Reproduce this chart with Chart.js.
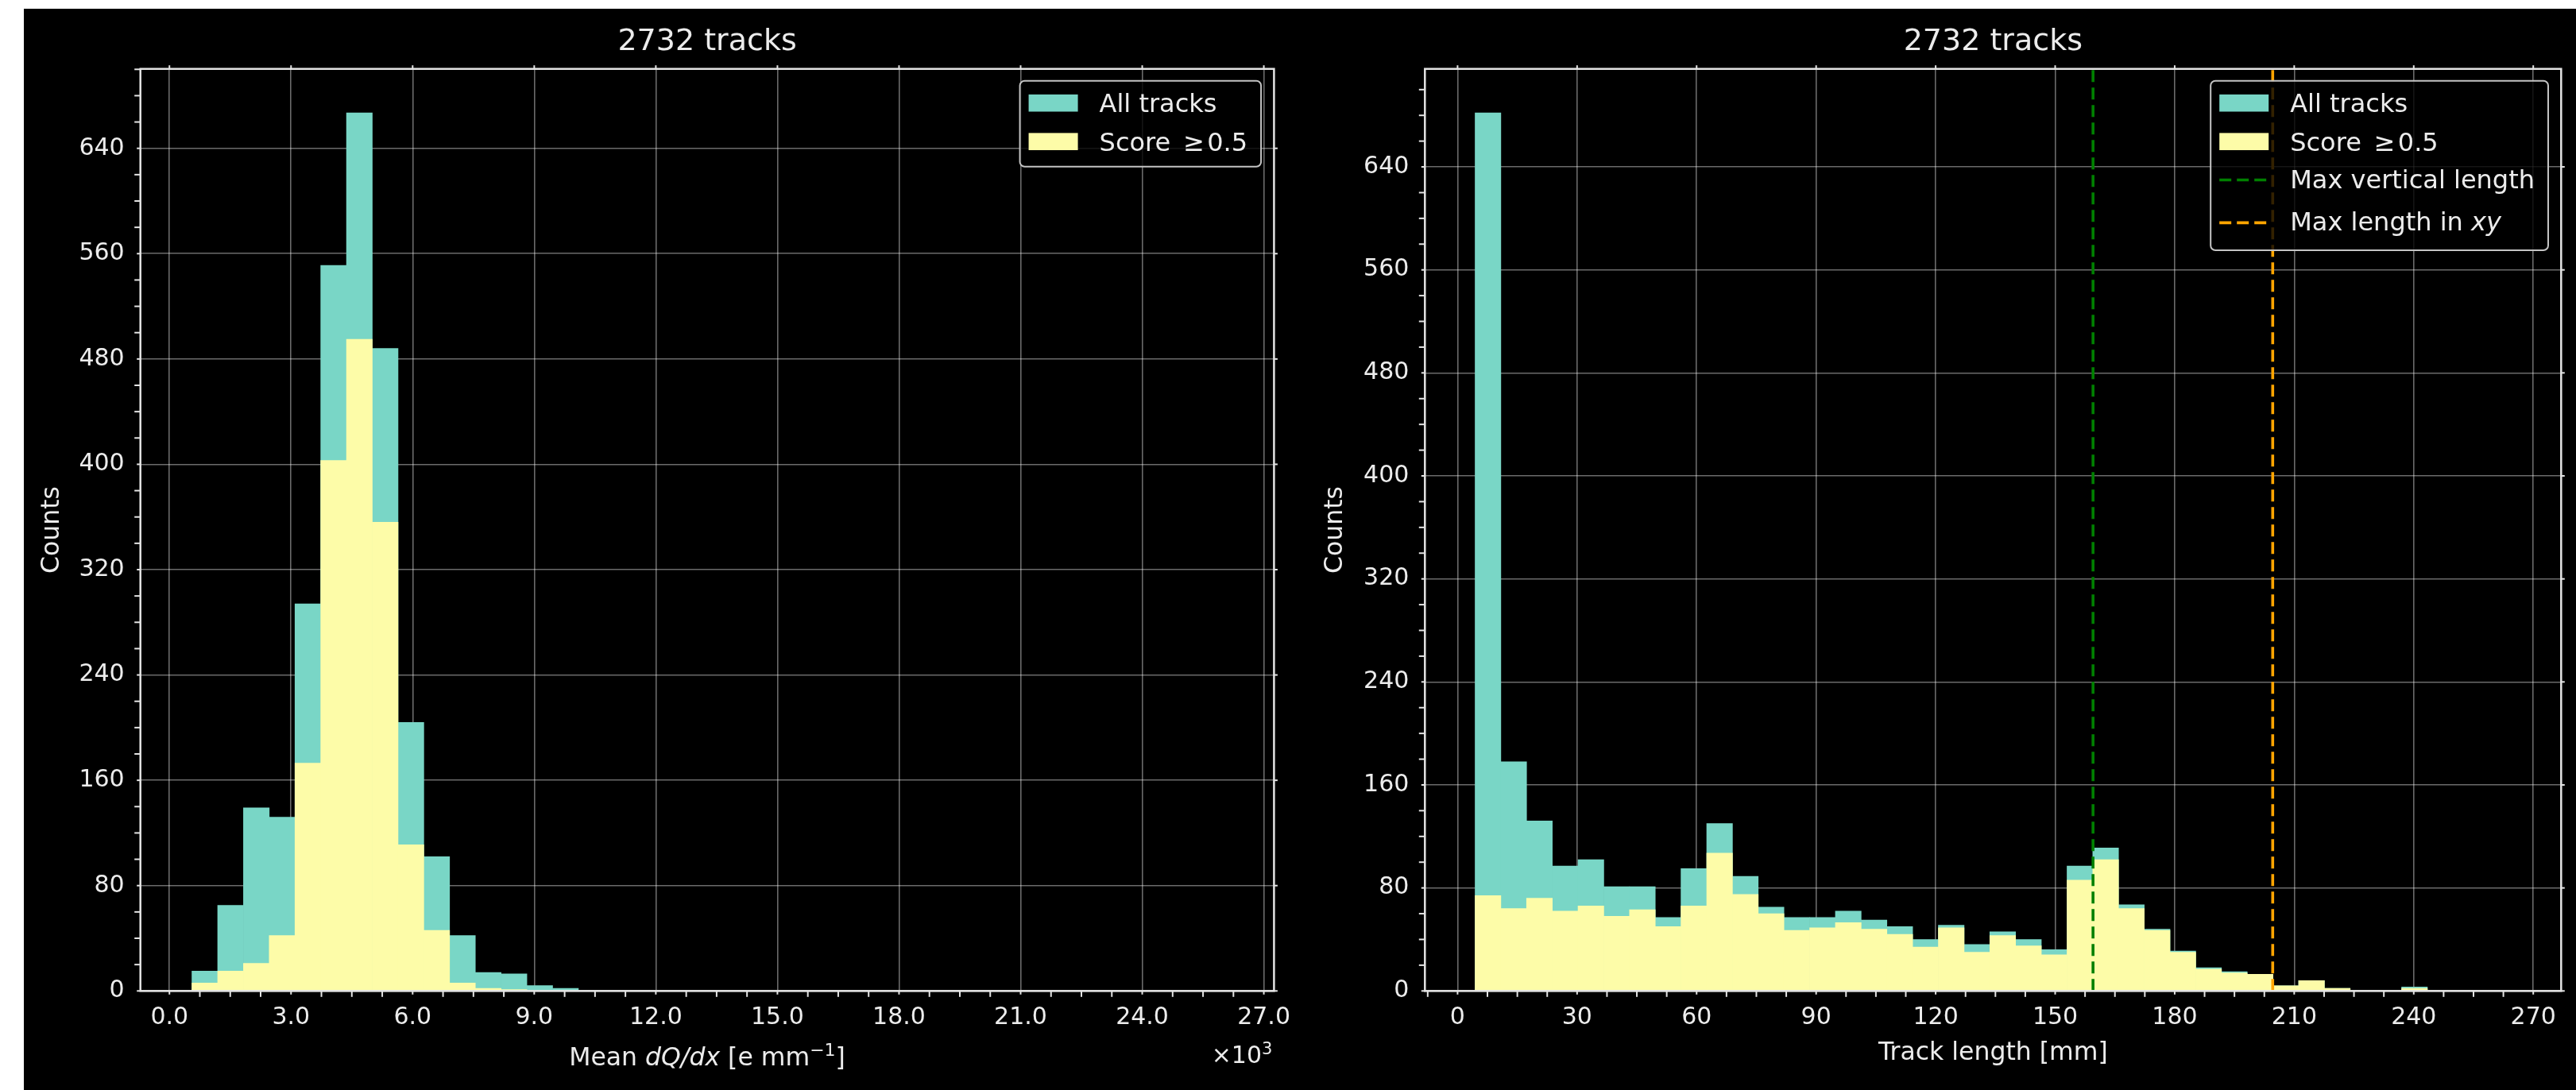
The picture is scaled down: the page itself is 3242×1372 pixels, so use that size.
<!DOCTYPE html>
<html>
<head>
<meta charset="utf-8">
<title>Track histograms</title>
<script src="https://cdn.jsdelivr.net/npm/chart.js@4.4.1/dist/chart.umd.min.js"></script>
<style>
  html, body { margin: 0; padding: 0; background: #ffffff; width: 3242px; height: 1372px; overflow: hidden; }
  #panel { position: absolute; left: 30px; top: 11px; width: 3212px; height: 1361px; background: #000000; }
  #dqdx { position: absolute; left: 0; top: 0; width: 1610px; height: 1361px; }
  #length { position: absolute; left: 1610px; top: 0; width: 1602px; height: 1361px; }
</style>
</head>
<body>
<div id="panel">
  <canvas id="dqdx" width="1610" height="1361"></canvas>
  <canvas id="length" width="1602" height="1361"></canvas>
</div>
<script>
// ---------------------------------------------------------------------------
// Data
// ---------------------------------------------------------------------------
const TITLE = '2732 tracks';
const SCORE_LABEL = 'Score\u2002\u2265\u200A0.5';

// Mean dQ/dx per track, in units of 10^3 e/mm: 40 equal-width bins
const dqdxBinRange = [0.555, 25.98];
const dqdxAllTracks = [15, 65, 139, 132, 294, 551, 667, 488, 204, 102,
                       42, 14, 13, 4, 2, 0, 0, 0, 0, 0,
                       0, 0, 0, 0, 0, 0, 0, 0, 0, 0,
                       0, 0, 0, 0, 0, 0, 0, 0, 0, 0];
const dqdxScorePass = [6, 15, 21, 42, 173, 403, 495, 356, 111, 46,
                       6, 2, 1, 0, 0, 0, 0, 0, 0, 0,
                       0, 0, 0, 0, 0, 0, 0, 0, 0, 0,
                       0, 0, 0, 0, 0, 0, 0, 0, 0, 0];
const dqdxTicks = [0, 3, 6, 9, 12, 15, 18, 21, 24, 27];

// Track length in mm: 40 equal-width bins
const lengthBinRange = [4.4, 262.8];
const lengthAllTracks = [682, 178, 132, 97, 102, 81, 81, 57, 95, 130,
                         89, 65, 57, 57, 62, 55, 50, 40, 51, 36,
                         46, 40, 32, 97, 111, 67, 48, 31, 18, 15,
                         13, 4, 8, 2, 0, 0, 3, 0, 0, 0];
const lengthScorePass = [74, 64, 72, 62, 66, 58, 63, 50, 66, 107,
                         75, 60, 47, 49, 53, 48, 44, 34, 49, 30,
                         43, 35, 28, 86, 102, 64, 47, 30, 17, 14,
                         13, 4, 8, 2, 0, 0, 2, 0, 0, 0];
const lengthTicks = [0, 30, 60, 90, 120, 150, 180, 210, 240, 270];
const lengthLimits = [-8.2, 277];
const maxVerticalLength = 159.5;
const maxLengthXY = 204.6;

const countTicks = [0, 80, 160, 240, 320, 400, 480, 560, 640];

// ---------------------------------------------------------------------------
// Style
// ---------------------------------------------------------------------------
const FONT = 'DejaVu Sans';
const TEXT = '#ececec';
const TEAL = '#79d6c6';
const YELLOW = '#fdfca8';
const GREEN = '#008000';
const ORANGE = '#ffa500';
const GRID = 'rgba(255,255,255,0.42)';
const SPINE = '#e4e4e4';
const DASH = [15, 7];
const REF_LINE_WIDTH = 3.6;
const MAJOR_LEN = 4.5;
const MINOR_LEN = 7.5;

Chart.defaults.font.family = FONT;
Chart.defaults.color = TEXT;

// ---------------------------------------------------------------------------
// Helpers
// ---------------------------------------------------------------------------
function binCenters(range, n) {
  const w = (range[1] - range[0]) / n;
  return Array.from({ length: n }, (_, i) => range[0] + (i + 0.5) * w);
}
function toPoints(centers, counts) {
  return counts.map((c, i) => ({ x: centers[i], y: c }));
}
function paddedRange(range, frac) {
  const span = range[1] - range[0];
  return [range[0] - frac * span, range[1] + frac * span];
}
function minorValues(min, max, step, majors) {
  const out = [];
  for (let k = Math.ceil(min / step - 1e-9); k * step <= max + 1e-9; k++) {
    const v = k * step;
    if (!majors.some(m => Math.abs(m - v) < 1e-6 * step)) out.push(v);
  }
  return out;
}
function segFont(s, base) {
  const size = s.size || base;
  return (s.italic ? 'italic ' : '') + size + 'px "' + FONT + '"';
}
function richWidth(ctx, segs, base) {
  let w = 0;
  segs.forEach(s => { ctx.font = segFont(s, base); w += ctx.measureText(s.t).width; });
  return w;
}
// Draws a run of text pieces (regular / italic / raised) on one baseline
function drawRich(ctx, segs, x, y, base, align) {
  const total = richWidth(ctx, segs, base);
  let cx = align === 'center' ? x - total / 2 : align === 'right' ? x - total : x;
  ctx.textAlign = 'left';
  ctx.textBaseline = 'alphabetic';
  segs.forEach(s => {
    ctx.font = segFont(s, base);
    ctx.fillText(s.t, cx, y - (s.rise || 0));
    cx += ctx.measureText(s.t).width;
  });
}
function roundedRect(ctx, x, y, w, h, r) {
  ctx.beginPath();
  ctx.moveTo(x + r, y);
  ctx.lineTo(x + w - r, y);
  ctx.arcTo(x + w, y, x + w, y + r, r);
  ctx.lineTo(x + w, y + h - r);
  ctx.arcTo(x + w, y + h, x + w - r, y + h, r);
  ctx.lineTo(x + r, y + h);
  ctx.arcTo(x, y + h, x, y + h - r, r);
  ctx.lineTo(x, y + r);
  ctx.arcTo(x, y, x + r, y, r);
  ctx.closePath();
}

// Axes frame: reference lines, spines, tick marks, legend, axis labels
const framePlugin = {
  id: 'frame',
  afterDatasetsDraw(chart, args, o) {
    const { ctx, chartArea: a, scales: { x, y } } = chart;
    ctx.save();

    // vertical reference lines
    (o.vlines || []).forEach(v => {
      const px = x.getPixelForValue(v.value);
      ctx.strokeStyle = v.color;
      ctx.lineWidth = REF_LINE_WIDTH;
      ctx.setLineDash(DASH);
      ctx.beginPath();
      ctx.moveTo(px, a.bottom);
      ctx.lineTo(px, a.top);
      ctx.stroke();
    });
    ctx.setLineDash([]);

    // spines
    ctx.strokeStyle = SPINE;
    ctx.lineWidth = 2.5;
    ctx.strokeRect(a.left, a.top, a.right - a.left, a.bottom - a.top);

    // tick marks
    ctx.lineWidth = 2;
    const mark = (x0, y0, x1, y1) => { ctx.beginPath(); ctx.moveTo(x0, y0); ctx.lineTo(x1, y1); ctx.stroke(); };
    const xMaj = x.ticks.map(t => t.value);
    const yMaj = y.ticks.map(t => t.value);
    xMaj.forEach(v => {
      const p = x.getPixelForValue(v);
      mark(p, a.bottom, p, a.bottom + MAJOR_LEN);
      mark(p, a.top, p, a.top - MAJOR_LEN);
    });
    yMaj.forEach(v => {
      const p = y.getPixelForValue(v);
      mark(a.left - MAJOR_LEN, p, a.left, p);
      mark(a.right, p, a.right + MAJOR_LEN, p);
    });
    minorValues(x.min, x.max, o.xMinor, xMaj).forEach(v => {
      const p = x.getPixelForValue(v);
      mark(p, a.bottom, p, a.bottom + MINOR_LEN);
    });
    minorValues(y.min, y.max, o.yMinor, yMaj).forEach(v => {
      const p = y.getPixelForValue(v);
      mark(a.left - MINOR_LEN, p, a.left, p);
    });

    // legend
    const rows = chart.data.datasets.map(ds => ({ kind: 'patch', color: ds.backgroundColor, segs: [{ t: ds.label }] }))
      .concat((o.vlines || []).map(v => ({ kind: 'line', color: v.color, segs: v.segs })));
    const LF = 32;
    const textX = 100;
    let maxW = 0;
    rows.forEach(r => { maxW = Math.max(maxW, richWidth(ctx, r.segs, LF)); });
    const boxW = textX + maxW + 17;
    const boxH = rows.length > 2 ? 213.3 : 108;
    const bx = a.right - 16.3 - boxW;
    const by = a.top + 15;
    roundedRect(ctx, bx, by, boxW, boxH, 6);
    ctx.fillStyle = 'rgba(0,0,0,0.8)';
    ctx.fill();
    ctx.strokeStyle = '#c4c4c4';
    ctx.lineWidth = 2;
    ctx.stroke();
    const handleMid = [28, 76.5, 124.8, 178.7];
    const textBase = [39.3, 88.3, 135.5, 188];
    rows.forEach((r, i) => {
      const cy = by + handleMid[i];
      if (r.kind === 'patch') {
        ctx.fillStyle = r.color;
        ctx.fillRect(bx + 11, cy - 10.8, 62, 21.6);
      } else {
        ctx.strokeStyle = r.color;
        ctx.lineWidth = REF_LINE_WIDTH;
        ctx.setLineDash(DASH);
        ctx.beginPath();
        ctx.moveTo(bx + 11, cy);
        ctx.lineTo(bx + 73, cy);
        ctx.stroke();
        ctx.setLineDash([]);
      }
      ctx.fillStyle = TEXT;
      drawRich(ctx, r.segs, bx + textX, by + textBase[i], LF, 'left');
    });

    // x-axis label and offset text
    ctx.fillStyle = TEXT;
    drawRich(ctx, o.xLabel, (a.left + a.right) / 2, o.xLabelBaseline, 31.5, 'center');
    if (o.offsetText) {
      drawRich(ctx, o.offsetText, a.right - 2, o.offsetBaseline, 30, 'right');
    }
    ctx.restore();
  }
};

function histChart(canvasId, cfg) {
  const centers = binCenters(cfg.binRange, cfg.all.length);
  const yMax = Math.max(...cfg.all) * 1.05;
  const barOpts = { grouped: false, barPercentage: 1, categoryPercentage: 1, borderWidth: 0 };
  return new Chart(document.getElementById(canvasId), {
    type: 'bar',
    data: {
      datasets: [
        Object.assign({ label: 'All tracks', data: toPoints(centers, cfg.all), backgroundColor: TEAL, order: 2 }, barOpts),
        Object.assign({ label: SCORE_LABEL, data: toPoints(centers, cfg.score), backgroundColor: YELLOW, order: 1 }, barOpts)
      ]
    },
    options: {
      responsive: false,
      animation: false,
      events: [],
      layout: { padding: { left: 0, top: 0, bottom: 0, right: cfg.padRight } },
      plugins: {
        legend: { display: false },
        tooltip: { enabled: false },
        title: {
          display: true, text: TITLE, fullSize: false, color: TEXT,
          font: { size: 38, lineHeight: 1, weight: 'normal' },
          padding: { top: 22.9, bottom: 14.8 }
        },
        frame: cfg.frame
      },
      scales: {
        x: {
          type: 'linear', min: cfg.xLimits[0], max: cfg.xLimits[1], offset: false,
          afterBuildTicks: ax => { ax.ticks = cfg.xTicks.map(v => ({ value: v })); },
          ticks: { callback: cfg.xFormat, font: { size: 30 }, color: TEXT, padding: 15.7, autoSkip: false, maxRotation: 0 },
          grid: { color: GRID, lineWidth: 1.6, drawTicks: false, offset: false },
          border: { display: false },
          afterFit: s => { s.height = 124.7; }
        },
        y: {
          type: 'linear', min: 0, max: yMax,
          afterBuildTicks: ax => { ax.ticks = countTicks.map(v => ({ value: v })); },
          ticks: { font: { size: 30 }, color: TEXT, padding: 20, autoSkip: false },
          grid: { color: GRID, lineWidth: 1.6, drawTicks: false },
          border: { display: false },
          title: { display: true, text: 'Counts', color: TEXT, font: { size: 31.5 }, padding: { top: cfg.yTitlePad, bottom: 0 } },
          afterFit: s => { s.width = cfg.yAxisWidth; }
        }
      }
    },
    plugins: [framePlugin]
  });
}

// Mean dQ/dx panel
histChart('dqdx', {
  binRange: dqdxBinRange,
  all: dqdxAllTracks,
  score: dqdxScorePass,
  xLimits: paddedRange(dqdxBinRange, 0.05),
  xTicks: dqdxTicks,
  xFormat: v => Number(v).toFixed(1),
  padRight: 35,
  yAxisWidth: 146.7,
  yTitlePad: 17,
  frame: {
    xMinor: 0.75,
    yMinor: 20,
    xLabel: [{ t: 'Mean ' }, { t: 'dQ/dx', italic: true }, { t: ' [e mm' }, { t: '\u22121', size: 22, rise: 12 }, { t: ']' }],
    xLabelBaseline: 1329.5,
    offsetText: [{ t: '\u00d710' }, { t: '3', size: 21, rise: 11.3 }],
    offsetBaseline: 1327.3,
    vlines: []
  }
});

// Track length panel
histChart('length', {
  binRange: lengthBinRange,
  all: lengthAllTracks,
  score: lengthScorePass,
  xLimits: lengthLimits,
  xTicks: lengthTicks,
  xFormat: v => String(v),
  padRight: 18.7,
  yAxisWidth: 153.3,
  yTitlePad: 22.4,
  frame: {
    xMinor: 7.5,
    yMinor: 20,
    xLabel: [{ t: 'Track length [mm]' }],
    xLabelBaseline: 1322.6,
    offsetText: null,
    vlines: [
      { value: maxVerticalLength, color: GREEN, segs: [{ t: 'Max vertical length' }] },
      { value: maxLengthXY, color: ORANGE, segs: [{ t: 'Max length in ' }, { t: 'xy', italic: true }] }
    ]
  }
});
</script>
</body>
</html>
